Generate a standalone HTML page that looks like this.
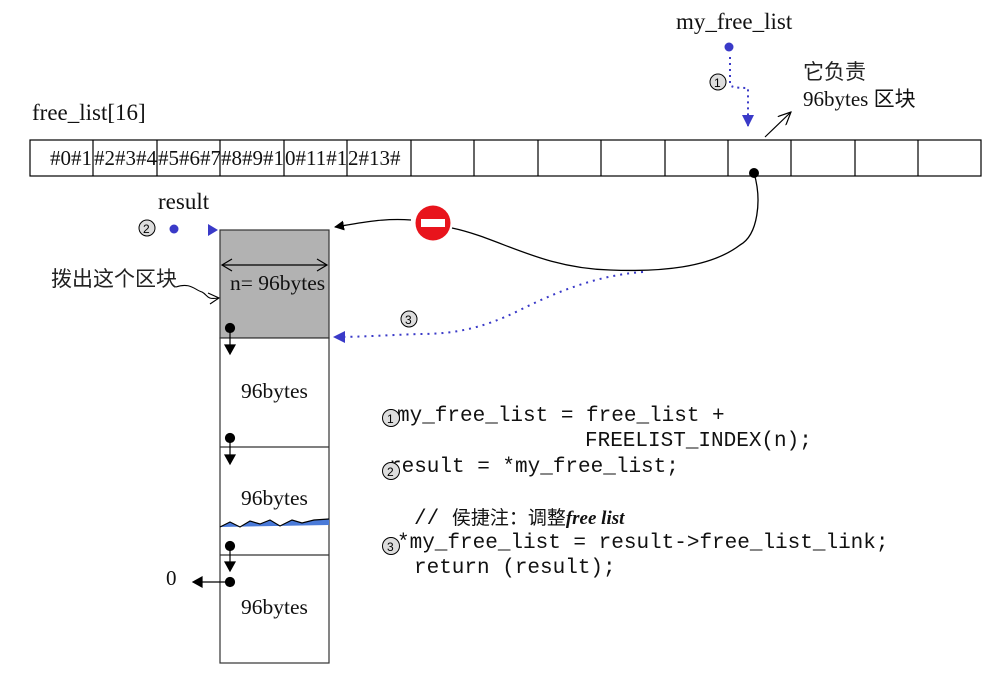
<!DOCTYPE html>
<html><head><meta charset="utf-8"><style>
html,body{margin:0;padding:0;background:#fff;width:999px;height:673px;overflow:hidden}
svg{display:block}
.t{font-family:"Liberation Serif","Noto Serif CJK SC",serif;fill:#111}
.c{font-family:"Liberation Mono","Noto Sans CJK SC",monospace;fill:#111;font-size:21px}
.cjk{font-family:"Liberation Serif","Noto Sans CJK SC",sans-serif;fill:#222}
</style></head><body>
<svg width="999" height="673" viewBox="0 0 999 673" xmlns="http://www.w3.org/2000/svg">
<defs>
<marker id="ab" markerWidth="10" markerHeight="10" refX="9" refY="5" orient="auto" markerUnits="userSpaceOnUse"><path d="M0,0 L10,5 L0,10z" fill="#000"/></marker>
<marker id="abl" markerWidth="12" markerHeight="12" refX="11" refY="6" orient="auto" markerUnits="userSpaceOnUse"><path d="M0,0 L12,6 L0,12z" fill="#3a3ac8"/></marker>
<marker id="ao" markerWidth="14" markerHeight="12" refX="13" refY="6" orient="auto" markerUnits="userSpaceOnUse"><path d="M0,0 L13,6 L0,12" fill="none" stroke="#000" stroke-width="1.2"/></marker>
</defs>
<text class="t" x="676" y="29" font-size="23">my_free_list</text>
<text class="t" x="32" y="120" font-size="23">free_list[16]</text>
<text class="cjk" x="803" y="79" font-size="21">它负责</text>
<text class="t" x="803" y="106" font-size="21">96bytes <tspan font-family="Noto Sans CJK SC">区块</tspan></text>
<rect x="30" y="140" width="951" height="36" fill="none" stroke="#000" stroke-width="1.2"/>
<g stroke="#000" stroke-width="1.2">
<line x1="93" y1="140" x2="93" y2="176"/><line x1="157" y1="140" x2="157" y2="176"/><line x1="220" y1="140" x2="220" y2="176"/><line x1="284" y1="140" x2="284" y2="176"/><line x1="347" y1="140" x2="347" y2="176"/><line x1="411" y1="140" x2="411" y2="176"/><line x1="474" y1="140" x2="474" y2="176"/><line x1="538" y1="140" x2="538" y2="176"/><line x1="601" y1="140" x2="601" y2="176"/><line x1="665" y1="140" x2="665" y2="176"/><line x1="728" y1="140" x2="728" y2="176"/><line x1="791" y1="140" x2="791" y2="176"/><line x1="855" y1="140" x2="855" y2="176"/><line x1="918" y1="140" x2="918" y2="176"/>
</g>
<text class="t" x="50" y="165" font-size="21">#0#1</text>
<text class="t" x="94" y="165" font-size="21">#2#3#4</text>
<text class="t" x="158" y="165" font-size="21">#5#6#7</text>
<text class="t" x="221" y="165" font-size="21">#8#9#1</text>
<text class="t" x="285" y="165" font-size="21">0#11#1</text>
<text class="t" x="348" y="165" font-size="21">2#13#</text>
<circle cx="729" cy="47" r="4.5" fill="#3a3ac8"/>
<path d="M730,57 L730,85 Q732,88 748,88 L748,126" fill="none" stroke="#3a3ac8" stroke-width="2" stroke-dasharray="2,4" marker-end="url(#abl)"/>
<circle cx="718" cy="82" r="8" fill="#ddd" stroke="#000"/><text x="714" y="87" font-size="12" font-family="Liberation Sans">1</text>
<line x1="765" y1="137" x2="791" y2="112" stroke="#000" stroke-width="1.2" marker-end="url(#ao)"/>
<circle cx="754" cy="173" r="5" fill="#000"/>
<path d="M754,173 C762,200 758,235 740,245 C710,268 660,272 610,270 C540,268 500,238 452,228" fill="none" stroke="#000" stroke-width="1.3"/>
<path d="M411,220 C385,218 365,222 335,227" fill="none" stroke="#000" stroke-width="1.3" marker-end="url(#ab)"/>
<circle cx="433" cy="223" r="17.5" fill="#e8141c"/><rect x="421" y="219" width="24" height="8" fill="#fff"/>
<path d="M643,272 C600,275 560,290 520,310 C480,330 450,334 420,334 C390,335 360,337 334,337" fill="none" stroke="#3a3ac8" stroke-width="2" stroke-dasharray="2,5" marker-end="url(#abl)"/>
<circle cx="409" cy="319" r="8" fill="#ddd" stroke="#000"/><text x="405" y="324" font-size="12" font-family="Liberation Sans">3</text>
<text class="t" x="158" y="209" font-size="23">result</text>
<circle cx="147" cy="228" r="8" fill="#ddd" stroke="#000"/><text x="143" y="233" font-size="12" font-family="Liberation Sans">2</text>
<circle cx="174" cy="229" r="4.5" fill="#3a3ac8"/>
<path d="M208,224 L218,230 L208,236z" fill="#3a3ac8"/>
<rect x="220" y="230" width="109" height="108" fill="#b2b2b2" stroke="#333" stroke-width="1.2"/>
<rect x="220" y="338" width="109" height="325" fill="#fff" stroke="#333" stroke-width="1.2"/>
<line x1="220" y1="447" x2="329" y2="447" stroke="#333" stroke-width="1.2"/>
<line x1="220" y1="555" x2="329" y2="555" stroke="#333" stroke-width="1.2"/>
<line x1="222" y1="265" x2="327" y2="265" stroke="#000" stroke-width="1.2"/>
<path d="M232,259 L222,265 L232,271 M317,259 L327,265 L317,271" fill="none" stroke="#000" stroke-width="1.2"/>
<text class="t" x="230" y="290" font-size="21.5">n= 96bytes</text>
<text class="t" x="241" y="398" font-size="21.5">96bytes</text>
<text class="t" x="241" y="505" font-size="21.5">96bytes</text>
<text class="t" x="241" y="614" font-size="21.5">96bytes</text>
<path d="M220,527 L230,522 L240,527 L250,521 L260,524 L270,520 L280,526 L292,520 L302,523 L314,520 L329,519 L329,525 L220,527z" fill="#4a7ad8"/>
<path d="M220,527 L230,522 L240,527 L250,521 L260,524 L270,520 L280,526 L292,520 L302,523 L314,520 L329,519" fill="none" stroke="#000" stroke-width="1.2"/>
<g fill="#000" stroke="#000" stroke-width="1.2">
<circle cx="230" cy="328" r="4.5"/><line x1="230" y1="330" x2="230" y2="346"/><path d="M225,345 L235,345 L230,354z"/>
<circle cx="230" cy="438" r="4.5"/><line x1="230" y1="440" x2="230" y2="456"/><path d="M225,455 L235,455 L230,464z"/>
<circle cx="230" cy="546" r="4.5"/><line x1="230" y1="548" x2="230" y2="563"/><path d="M225,562 L235,562 L230,571z"/>
<circle cx="230" cy="582" r="4.5"/><line x1="230" y1="582" x2="200" y2="582"/><path d="M202,577 L202,587 L193,582z"/>
</g>
<text class="t" x="166" y="585" font-size="21">0</text>
<text class="cjk" x="51" y="286" font-size="21">拨出这个区块</text>
<path d="M176,287 C190,282 195,290 202,292 C208,295 206,300 218,298" fill="none" stroke="#000" stroke-width="1.1"/>
<path d="M208,293 L219,298 L210,304" fill="none" stroke="#000" stroke-width="1.1"/>
<text class="c" x="397" y="421">my_free_list = free_list +</text>
<text class="c" x="585" y="446">FREELIST_INDEX(n);</text>
<text class="c" x="389" y="472">result = *my_free_list;</text>
<text class="c" x="414" y="524">// <tspan font-family="Noto Sans CJK SC" font-size="19">侯捷注：调整</tspan><tspan font-family="Liberation Serif" font-style="italic" font-weight="bold" font-size="19">free list</tspan></text>
<text class="c" x="397" y="548">*my_free_list = result-&gt;free_list_link;</text>
<text class="c" x="414" y="573">return (result);</text>
<g>
<circle cx="391" cy="418" r="8.5" fill="#ddd" stroke="#000"/><text x="387" y="423" font-size="12" font-family="Liberation Sans">1</text>
<circle cx="391" cy="471" r="8.5" fill="#ddd" stroke="#000"/><text x="387" y="476" font-size="12" font-family="Liberation Sans">2</text>
<circle cx="391" cy="546" r="8.5" fill="#ddd" stroke="#000"/><text x="387" y="551" font-size="12" font-family="Liberation Sans">3</text>
</g>
</svg>
</body></html>
